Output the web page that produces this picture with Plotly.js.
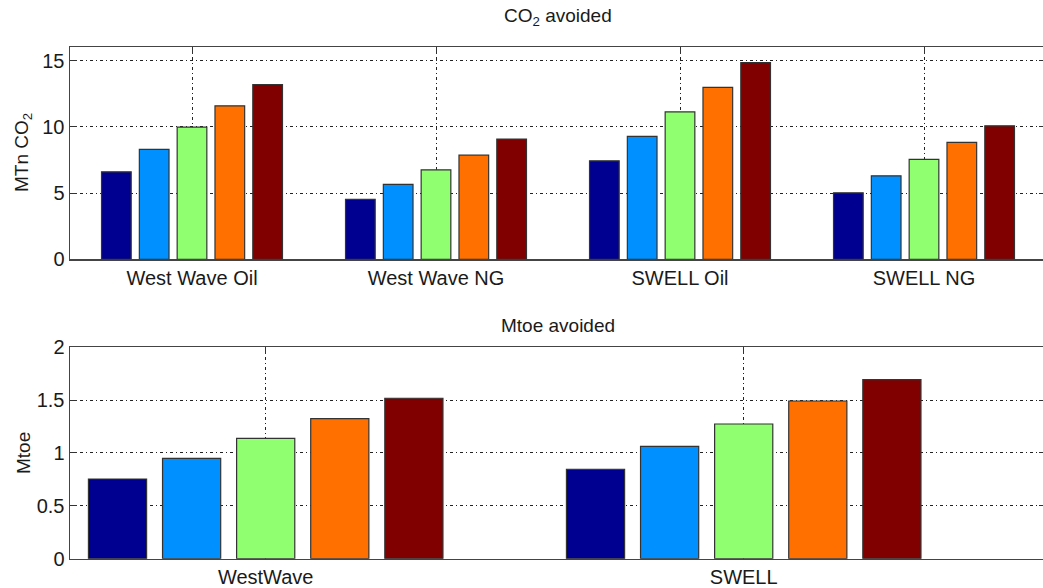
<!DOCTYPE html>
<html>
<head>
<meta charset="utf-8">
<script src="https://cdn.plot.ly/plotly-3.0.1.min.js"></script>
<style>
html,body{margin:0;padding:0;overflow:hidden;background:#fff;}
#chart{width:1046px;height:588px;}
</style>
</head>
<body>
<div id="chart"></div>
<script>
// ---- data ----
const co2Categories = ["West Wave Oil", "West Wave NG", "SWELL Oil", "SWELL NG"];
const co2Series1 = [6.6, 4.52, 7.43, 5.02];
const co2Series2 = [8.29, 5.65, 9.27, 6.3];
const co2Series3 = [9.97, 6.75, 11.12, 7.54];
const co2Series4 = [11.58, 7.86, 12.98, 8.82];
const co2Series5 = [13.19, 9.07, 14.84, 10.07];

const mtoeCategories = ["WestWave", "SWELL"];
const mtoeSeries1 = [0.754, 0.846];
const mtoeSeries2 = [0.95, 1.063];
const mtoeSeries3 = [1.139, 1.274];
const mtoeSeries4 = [1.325, 1.492];
const mtoeSeries5 = [1.518, 1.694];

const seriesNames = ["Scenario 1", "Scenario 2", "Scenario 3", "Scenario 4", "Scenario 5"];
const co2TickVals = [0, 5, 10, 15];
const mtoeTickVals = [0, 0.5, 1, 1.5, 2];
const mtoeTickText = ["0", "0.5", "1", "1.5", "2"];

// ---- styling ----
const colors = ["#000090", "#0090FF", "#90FF70", "#FF7000", "#800000"];
const FONT = "Liberation Sans, Arial, sans-serif";
const TXT = "#1a1a1a";
const GRIDDASH = "3px,3px,1px,3px";

const co2Data = [co2Series1, co2Series2, co2Series3, co2Series4, co2Series5];
const mtoeData = [mtoeSeries1, mtoeSeries2, mtoeSeries3, mtoeSeries4, mtoeSeries5];

const traces = [];
co2Data.forEach((vals, i) => {
  traces.push({
    type: "bar", x: co2Categories, y: vals, name: seriesNames[i],
    xaxis: "x", yaxis: "y", showlegend: false,
    marker: {color: colors[i], line: {color: "#333", width: 1.2}},
    hoverinfo: "x+y"
  });
});
mtoeData.forEach((vals, i) => {
  traces.push({
    type: "bar", x: mtoeCategories, y: vals, name: seriesNames[i],
    xaxis: "x2", yaxis: "y2", showlegend: false,
    marker: {color: colors[i], line: {color: "#333", width: 1.2}},
    hoverinfo: "x+y"
  });
});

function xAxis(range, anchor) {
  return {
    type: "category", range: range, anchor: anchor,
    showline: true, linecolor: "#444", linewidth: 1.5, mirror: "ticks",
    ticks: "inside", ticklen: 7, tickcolor: "#333", tickwidth: 1,
    showgrid: true, gridcolor: "#222", gridwidth: 1, griddash: GRIDDASH,
    zeroline: false, layer: "below traces",
    tickfont: {family: FONT, size: 20, color: TXT},
    fixedrange: true
  };
}
function yAxis(domain, range, tickvals, ticktext, anchor) {
  const a = {
    domain: domain, range: range, anchor: anchor,
    tickmode: "array", tickvals: tickvals,
    showline: true, linecolor: "#444", linewidth: 1.5, mirror: "ticks",
    ticks: "inside", ticklen: 7, tickcolor: "#333", tickwidth: 1,
    showgrid: true, gridcolor: "#222", gridwidth: 1, griddash: GRIDDASH,
    zeroline: false,
    tickfont: {family: FONT, size: 20, color: TXT},
    fixedrange: true
  };
  if (ticktext) a.ticktext = ticktext;
  return a;
}

const layout = {
  width: 1046, height: 588,
  margin: {l: 70, r: 0, t: 0, b: 0},
  paper_bgcolor: "#fff", plot_bgcolor: "#fff",
  barmode: "group", bargap: 0.225, bargroupgap: 0.215,
  showlegend: false,
  xaxis: xAxis([-0.5, 3.5], "y"),
  yaxis: yAxis([0.559, 0.9196], [0, 16], co2TickVals, null, "x"),
  xaxis2: xAxis([-0.4094, 1.6324], "y2"),
  yaxis2: yAxis([0.0498, 0.4094], [0, 2], mtoeTickVals, mtoeTickText, "x2"),
  annotations: [
    {text: "CO<sub>2</sub> avoided", xref: "paper", yref: "paper", x: 0.5, y: 1 - 17/588,
     xanchor: "center", yanchor: "middle", showarrow: false,
     font: {family: FONT, size: 19, color: TXT}},
    {text: "Mtoe avoided", xref: "paper", yref: "paper", x: 0.5, y: 1 - 325/588,
     xanchor: "center", yanchor: "middle", showarrow: false,
     font: {family: FONT, size: 19, color: TXT}},
    {text: "MTn CO<sub>2</sub>", xref: "paper", yref: "paper", x: (23 - 70) / 976, y: 1 - 153/588,
     xanchor: "center", yanchor: "middle", showarrow: false, textangle: -90,
     font: {family: FONT, size: 19, color: TXT}},
    {text: "Mtoe", xref: "paper", yref: "paper", x: (23 - 70) / 976, y: 1 - 453/588,
     xanchor: "center", yanchor: "middle", showarrow: false, textangle: -90,
     font: {family: FONT, size: 19, color: TXT}}
  ]
};

Plotly.newPlot("chart", traces, layout, {displayModeBar: false, staticPlot: true});
</script>
</body>
</html>
